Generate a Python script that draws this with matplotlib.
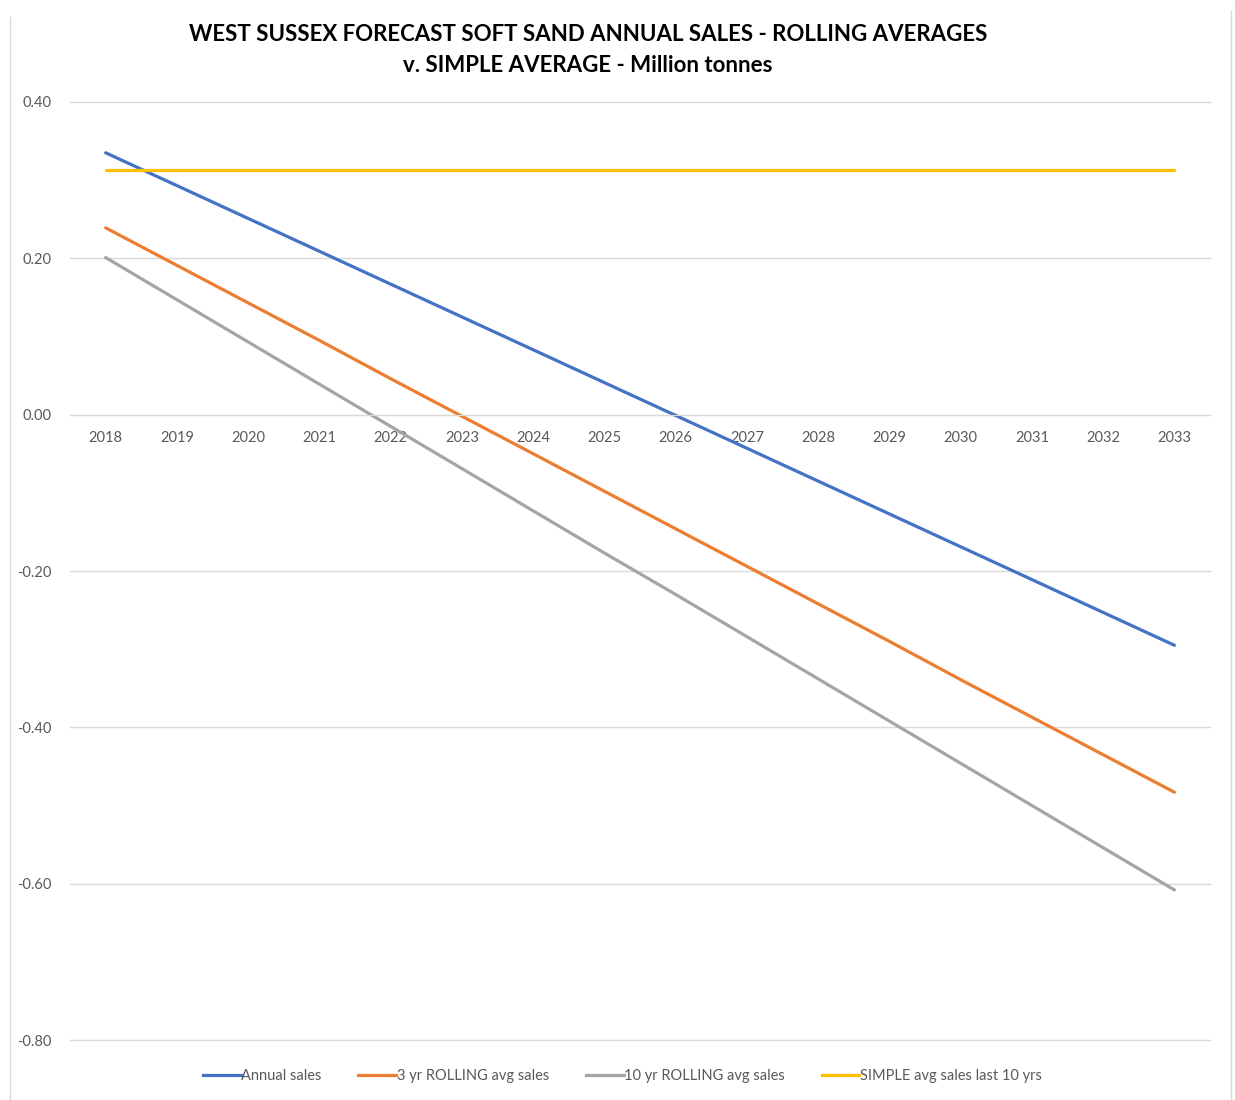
import matplotlib.pyplot as plt
import matplotlib.lines as mlines
import numpy as np

years = [str(y) for y in range(2018, 2034)]

annual_sales = [0.335, 0.293, 0.251, 0.209, 0.167, 0.125, 0.083, 0.041,
                -0.001, -0.043, -0.085, -0.127, -0.169, -0.211, -0.253, -0.295]
rolling_3yr = [0.239, 0.191, 0.143, 0.095, 0.046, -0.002, -0.050, -0.098,
               -0.146, -0.194, -0.242, -0.290, -0.339, -0.387, -0.435, -0.483]
rolling_10yr = [0.201, 0.147, 0.093, 0.039, -0.015, -0.069, -0.123, -0.177,
                -0.230, -0.284, -0.338, -0.392, -0.446, -0.500, -0.554, -0.608]
simple_avg = [0.313] * 16

y_ticks = [-0.8, -0.6, -0.4, -0.2, 0.0, 0.2, 0.4]

series_names = ["Annual sales", "3 yr ROLLING avg sales",
                "10 yr ROLLING avg sales", "SIMPLE avg sales last 10 yrs"]
colors = ["#4472C4", "#ED7D31", "#A5A5A5", "#FFC000"]

plt.rcParams['font.family'] = ['Lato', 'DejaVu Sans']

fig = plt.figure(figsize=(12.35, 11), dpi=100)
ax = fig.add_axes([0.0567, 0.0545, 0.9231, 0.8528])

x = np.arange(len(years))
for vals, name, c in zip([annual_sales, rolling_3yr, rolling_10yr, simple_avg], series_names, colors):
    ax.plot(x, vals, color=c, lw=2.3, label=name, solid_capstyle='round')

ax.set_xlim(-0.5, len(years) - 0.5)
ax.set_ylim(-0.8, 0.4)
ax.set_yticks(y_ticks)
ax.set_yticklabels([f"{v:.2f}" for v in y_ticks])
ax.set_xticks(x)
ax.set_xticklabels(years)
ax.yaxis.grid(True, color="#D9D9D9", lw=1)
for gl in ax.yaxis.get_gridlines():
    gl.set_clip_on(False)
ax.set_axisbelow(True)
for s in ["top", "right", "left"]:
    ax.spines[s].set_visible(False)
ax.spines["bottom"].set_position(("data", 0))
ax.spines["bottom"].set_color("#D9D9D9")
ax.tick_params(axis="both", length=0, colors="#595959", labelsize=10.5)
ax.tick_params(axis="x", pad=12)
ax.tick_params(axis="y", pad=13)

fig.text(0.476, 0.969, "WEST SUSSEX FORECAST SOFT SAND ANNUAL SALES - ROLLING AVERAGES",
         ha="center", va="center", fontsize=16, fontweight="bold", color="#000000")
fig.text(0.476, 0.940, "v. SIMPLE AVERAGE - Million tonnes",
         ha="center", va="center", fontsize=16, fontweight="bold", color="#000000")

handles = [mlines.Line2D([], [], color=c, lw=2.3) for c in colors]
leg = fig.legend(handles, series_names, loc="center", bbox_to_anchor=(0.504, 0.022),
                 ncol=4, frameon=False, fontsize=10.5, handlelength=2.6,
                 handletextpad=0.05, columnspacing=2.5)
for t in leg.get_texts():
    t.set_color("#595959")

# spreadsheet cell borders around the chart
fig.add_artist(mlines.Line2D([0.008, 0.008], [0.0, 0.985], color="#D9D9D9", lw=1))
fig.add_artist(mlines.Line2D([0.997, 0.997], [0.0, 0.99], color="#D9D9D9", lw=1))

fig.savefig("out.png", dpi=100)
